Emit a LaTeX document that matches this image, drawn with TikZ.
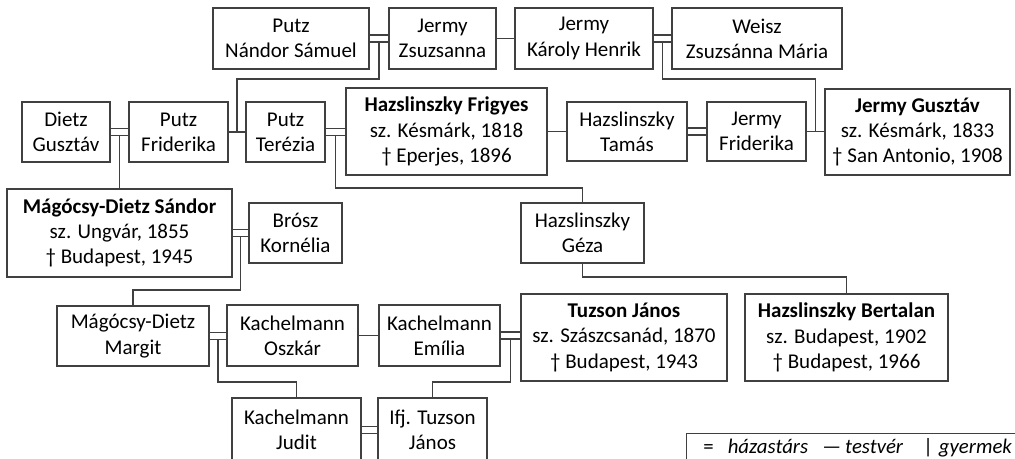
\documentclass[tikz,border=0pt]{standalone}
\usepackage{fontspec}
\setmainfont{Carlito}
\usepackage{tikz}
\colorlet{vonal}{black!75}

\begin{document}
\begin{tikzpicture}[x=0.5pt, y=-0.5pt,
	szemely/.style={draw=vonal, line width=0.8pt, inner sep=0pt, outer sep=0pt,
		align=center, font={\fontsize{10.5}{12.6}\selectfont}},
	kapocs/.style={draw=vonal, line width=0.8pt},
	jel/.style={anchor=base west, inner sep=0pt, font={\fontsize{10.4}{12}\selectfont}}]
	\useasboundingbox (0,0) rectangle (1015,459);
	% doboz: név, bal, felső, jobb, alsó, szöveg
	\newcommand \doboz[6]
		{\node [szemely, minimum width={(#4-#2)*0.5pt}, minimum height={(#5-#3)*0.5pt}]
			(#1) at ({(#2+#4)/2},{(#3+#5)/2+1}) {#6}}
	\newcommand \hazas[2]
		{\path ([yshift=1.75pt]#1.east) coordinate (h1) ([yshift=-1.75pt]#1.east) coordinate (h2);
		 \draw [kapocs] (h1) -- (h1 -| #2.west) (h2) -- (h2 -| #2.west) coordinate [midway] (#1#2)}
	\newcommand \testver[2]
		{\draw [kapocs] (#1.east) -- (#1.east -| #2.west) coordinate [midway] (#1#2)}
	\newcommand \gyermek[3]
		{\draw [kapocs] (#1) -- (#1 |- 0,#2) -| (#3)}
	% Felső sor
	\doboz{putzN}{213}{7}{369}{68}{Putz\\Nándor Sámuel};
	\doboz{jermyZs}{389}{7}{496}{68}{Jermy\\Zsuzsanna};
	\doboz{jermyK}{515}{7}{653}{68}{Jermy\\Károly Henrik};
	\doboz{weisz}{672}{7}{842}{68}{Weisz\\Zsuzsánna Mária};
	% Második sor
	\doboz{dietzG}{22}{101}{110}{161}{Dietz\\Gusztáv};
	\doboz{putzF}{129}{101}{228}{161}{Putz\\Friderika};
	\doboz{putzT}{246}{101}{325}{161}{Putz\\Terézia};
	\doboz{hazF}{346}{87}{547}{174}{\textbf{Hazslinszky Frigyes}\\sz. Késmárk, 1818\\† Eperjes, 1896};
	\doboz{hazT}{567}{101}{687}{160}{Hazslinszky\\Tamás};
	\doboz{jermyF}{707}{101}{806}{160}{Jermy\\Friderika};
	\doboz{jermyG}{825}{88}{1010}{174}{\textbf{Jermy Gusztáv}\\sz. Késmárk, 1833\\† San Antonio, 1908};
	% Harmadik sor
	\doboz{magocsyS}{7}{188}{232}{276}{\textbf{Mágócsy-Dietz Sándor}\\sz. Ungvár, 1855\\† Budapest, 1945};
	\doboz{brosz}{249}{202}{342}{262}{Brósz\\Kornélia};
	\doboz{hazG}{521}{202}{644}{262}{Hazslinszky\\Géza};
	% Negyedik sor
	\doboz{margit}{57}{305}{209}{365}{Mágócsy-Dietz\\Margit};
	\doboz{oszkar}{227}{304}{358}{365}{Kachelmann\\Oszkár};
	\doboz{emilia}{379}{304}{500}{365}{Kachelmann\\Emília};
	\doboz{tuzsonJ}{521}{293}{727}{380}{\textbf{Tuzson János}\\sz. Szászcsanád, 1870\\† Budapest, 1943};
	\doboz{hazB}{745}{293}{948}{380}{\textbf{Hazslinszky Bertalan}\\sz. Budapest, 1902\\† Budapest, 1966};
	% Alsó sor
	\doboz{judit}{232}{397}{361}{461}{Kachelmann\\Judit};
	\doboz{ifjT}{378}{397}{487}{461}{Ifj. Tuzson\\János};
	% Házastársak, testvérek
	\hazas{putzN}{jermyZs};
	\testver{jermyZs}{jermyK};
	\hazas{jermyK}{weisz};
	\hazas{dietzG}{putzF};
	\testver{putzF}{putzT};
	\hazas{putzT}{hazF};
	\testver{hazF}{hazT};
	\hazas{hazT}{jermyF};
	\testver{jermyF}{jermyG};
	\hazas{magocsyS}{brosz};
	\hazas{margit}{oszkar};
	\testver{oszkar}{emilia};
	\hazas{emilia}{tuzsonJ};
	\hazas{judit}{ifjT};
	% Gyermekek
	\gyermek{putzNjermyZs}{79}{putzFputzT};
	\gyermek{jermyKweisz}{79}{jermyFjermyG};
	\gyermek{dietzGputzF}{170}{magocsyS.north};
	\gyermek{putzThazF}{188}{hazG.north};
	\gyermek{magocsySbrosz}{290}{margit.north};
	\gyermek{hazG.south}{277}{hazB.north};
	\gyermek{margitoszkar}{382}{judit.north};
	\gyermek{emiliatuzsonJ}{382}{ifjT.north};
	% Jelmagyarázat
	\draw [draw=vonal, line width=0.5pt] (686,433) rectangle (1022,470);
	\node [jel] (jelH) at (703,453) {=\hspace{7pt}\textit{házastárs}};
	\node [jel] (jelT) at (822,453) {—\hspace{2pt}\textit{testvér}};
	\node [jel] (jelGy) at (923,453) {|\hspace{3pt}\textit{gyermek}};
\end{tikzpicture}
\end{document}
